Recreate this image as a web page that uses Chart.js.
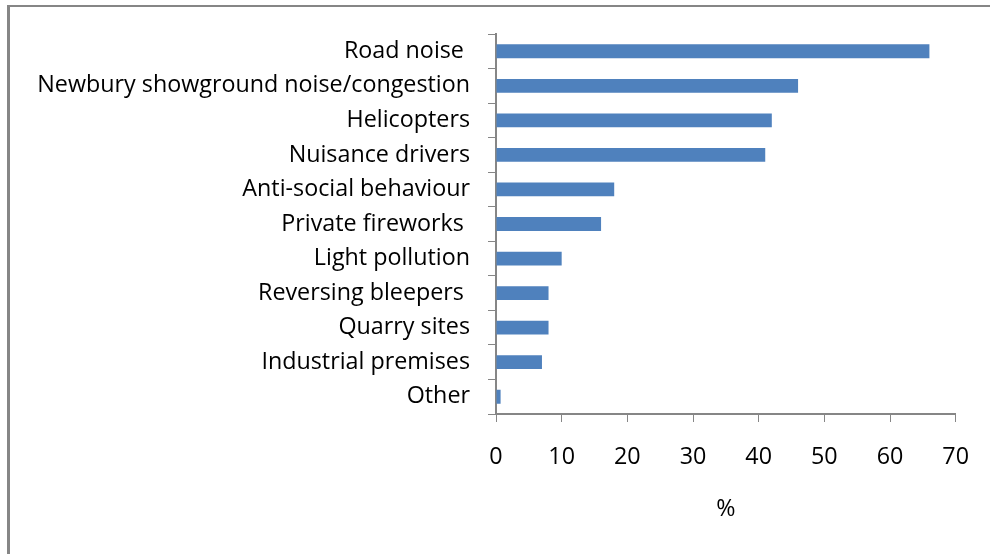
<!DOCTYPE html>
<html>
<head>
<meta charset="utf-8">
<script src="https://cdn.jsdelivr.net/npm/chart.js@4.4.0/dist/chart.umd.min.js"></script>
<style>
html, body { margin: 0; padding: 0; background: #fff; }
#wrap { width: 990px; height: 554px; position: relative; }
</style>
</head>
<body>
<div id="wrap"><canvas id="c" width="990" height="554"></canvas></div>
<script>
const categories = [
  "Road noise ",
  "Newbury showground noise/congestion",
  "Helicopters",
  "Nuisance drivers",
  "Anti-social behaviour",
  "Private fireworks ",
  "Light pollution",
  "Reversing bleepers ",
  "Quarry sites",
  "Industrial premises",
  "Other"
];
const percentValues = [66, 46, 42, 41, 18, 16, 10, 8, 8, 7, 0.7];
const xTickMin = 0;
const xTickMax = 70;
const xTickStep = 10;
const xAxisTitle = "%";

const AXIS = '#868686';
const FONT = { family: "'Open Sans', sans-serif", size: 23.3 };

const framePlugin = {
  id: 'frame',
  beforeDraw(chart) {
    const ctx = chart.ctx;
    ctx.save();
    ctx.fillStyle = '#fff';
    ctx.fillRect(0, 0, chart.width, chart.height);
    ctx.fillStyle = AXIS;
    ctx.fillRect(7, 5, chart.width - 7, 2);
    ctx.fillRect(7, 5, 3, chart.height - 5);
    ctx.restore();
  }
};

new Chart(document.getElementById('c'), {
  type: 'bar',
  data: {
    labels: categories,
    datasets: [{
      data: percentValues,
      backgroundColor: '#4F81BD',
      borderWidth: 0,
      categoryPercentage: 1.0,
      barPercentage: 0.4
    }]
  },
  plugins: [framePlugin],
  options: {
    indexAxis: 'y',
    responsive: false,
    animation: false,
    devicePixelRatio: 1,
    layout: { padding: { top: 34, right: 32, bottom: 0, left: 0 } },
    plugins: { legend: { display: false }, tooltip: { enabled: false }, title: { display: false } },
    scales: {
      y: {
        afterFit(scale) { scale.width = 496; },
        grid: { drawOnChartArea: false, drawTicks: true, tickLength: 8, color: AXIS, lineWidth: 1, offset: true },
        border: { display: true, color: AXIS, width: 2 },
        ticks: { color: '#000', font: FONT, padding: 18, autoSkip: false }
      },
      x: {
        min: xTickMin,
        max: xTickMax,
        afterFit(scale) { scale.height = 140; },
        grid: { drawOnChartArea: false, drawTicks: true, tickLength: 8, color: AXIS, lineWidth: 1 },
        border: { display: true, color: AXIS, width: 2 },
        ticks: { stepSize: xTickStep, color: '#000', font: FONT, padding: 21, maxRotation: 0 },
        title: { display: true, text: xAxisTitle, color: '#000', font: FONT, padding: { top: 0, bottom: 31 } }
      }
    }
  }
});
</script>
</body>
</html>
